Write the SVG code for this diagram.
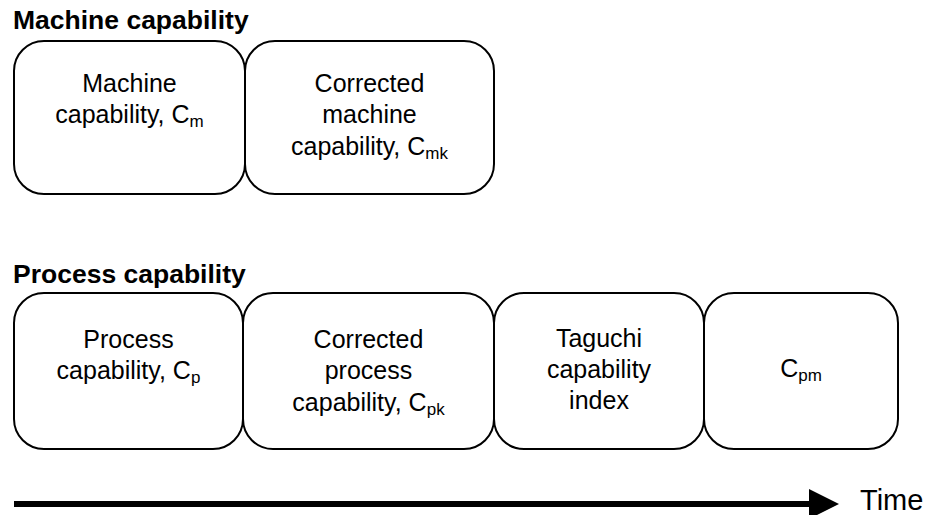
<svg xmlns="http://www.w3.org/2000/svg" width="931" height="515" viewBox="0 0 931 515">
<style>
.box{fill:#fff;stroke:#000;stroke-width:2}
.t{font-family:"Liberation Sans",Arial,sans-serif;font-size:25px;fill:#000;text-anchor:middle}
.h{font-family:"Liberation Sans",Arial,sans-serif;font-size:26.5px;font-weight:bold;fill:#000}
.sub{font-size:17px}
</style>
<defs>
<marker id="ah" markerWidth="5" markerHeight="5" refX="0" refY="2.5" orient="auto" markerUnits="strokeWidth">
<path d="M0,0 L5,2.5 L0,5 Z" fill="#000"/>
</marker>
</defs>
<text class="h" x="13" y="29">Machine capability</text>
<text class="h" x="13" y="283">Process capability</text>
<g id="n-cm">
<rect class="box" x="14" y="41" width="231" height="153" rx="30"/>
<text class="t" x="129.5" y="92">Machine</text>
<text class="t" x="129.5" y="123">capability, C<tspan class="sub" dy="4">m</tspan></text>
</g>
<g id="n-cmk">
<rect class="box" x="245" y="41" width="249" height="153" rx="30"/>
<text class="t" x="369.5" y="92">Corrected</text>
<text class="t" x="369.5" y="123">machine</text>
<text class="t" x="369.5" y="155">capability, C<tspan class="sub" dy="4">mk</tspan></text>
</g>
<g id="n-cp">
<rect class="box" x="14" y="293" width="229" height="156" rx="30"/>
<text class="t" x="128.5" y="348">Process</text>
<text class="t" x="128.5" y="379">capability, C<tspan class="sub" dy="4">p</tspan></text>
</g>
<g id="n-cpk">
<rect class="box" x="243" y="293" width="251" height="156" rx="30"/>
<text class="t" x="368.5" y="348">Corrected</text>
<text class="t" x="368.5" y="379">process</text>
<text class="t" x="368.5" y="411">capability, C<tspan class="sub" dy="4">pk</tspan></text>
</g>
<g id="n-taguchi">
<rect class="box" x="494" y="293" width="210" height="156" rx="30"/>
<text class="t" x="599" y="347">Taguchi</text>
<text class="t" x="599" y="378">capability</text>
<text class="t" x="599" y="409">index</text>
</g>
<g id="n-cpm">
<rect class="box" x="704" y="293" width="194" height="156" rx="30"/>
<text class="t" x="801" y="377">C<tspan class="sub" dy="4">pm</tspan></text>
</g>
<g id="connectors">
<line x1="14" y1="504" x2="809" y2="504" stroke="#000" stroke-width="6" marker-end="url(#ah)"/>
</g>
<text x="860" y="510" font-family="Liberation Sans,Arial,sans-serif" font-size="29" fill="#000">Time</text>
</svg>
